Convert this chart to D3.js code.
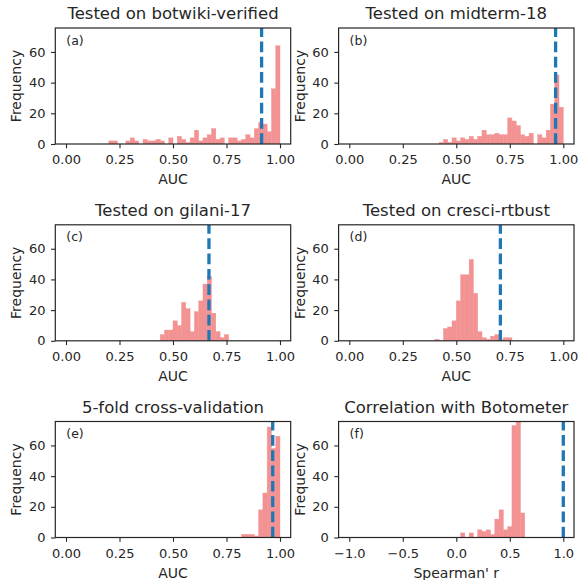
<!DOCTYPE html>
<html>
<head>
<meta charset="utf-8">
<script src="https://cdn.jsdelivr.net/npm/d3@7"></script>
<style>
  body { margin: 0; background: #fff; }
  svg text { font-family: 'DejaVu Sans', sans-serif; fill: #262626; }
</style>
</head>
<body>
<div id="chart"></div>
<script>
// histogram counts, one value per bin, starting at the first non-empty bin
const aucBinWidth = 0.02;
const rhoBinWidth = 0.04;

const botwikiStart = 0.20;
const botwikiCounts = [2, 2, 0, 0, 2, 4, 2, 0, 3, 2, 2, 3, 2, 0, 4, 0, 5, 3, 1, 4,
  9, 2, 4, 6, 10, 3, 4, 0, 4, 4, 2, 3, 6, 4, 10, 14, 13, 8, 36, 64];

const midtermStart = 0.42;
const midtermCounts = [1, 3, 1, 4, 2, 4, 3, 5, 3, 5, 9, 6, 6, 7, 6, 6, 17, 15, 12, 6,
  5, 7, 0, 6, 4, 9, 26, 45, 24];

const gilaniStart = 0.44;
const gilaniCounts = [4, 7, 7, 13, 10, 25, 21, 6, 19, 26, 37, 42, 18, 6, 2, 4];

const cresciStart = 0.40;
const cresciCounts = [1, 0, 8, 9, 13, 26, 43, 43, 53, 31, 6, 2, 1, 3, 4, 1, 2, 2];

const crossvalStart = 0.82;
const crossvalCounts = [2, 2, 2, 1, 18, 29, 72, 58, 66];

const spearmanStart = 0.04;
const spearmanCounts = [3, 0, 3, 0, 5, 4, 5, 2, 12, 18, 5, 7, 73, 76, 16];

// reference value drawn as the dashed line
const dashedValues = [0.914, 0.964, 0.668, 0.706, 0.966, 1.0];

const panelTitles = ['Tested on botwiki-verified', 'Tested on midterm-18',
  'Tested on gilani-17', 'Tested on cresci-rtbust',
  '5-fold cross-validation', 'Correlation with Botometer'];
const panelLetters = ['(a)', '(b)', '(c)', '(d)', '(e)', '(f)'];
const xLabels = ['AUC', 'AUC', 'AUC', 'AUC', 'AUC', "Spearman' r"];

const aucTicks = [0, 0.25, 0.5, 0.75, 1];
const rhoTicks = [-1, -0.5, 0, 0.5, 1];
const freqTicks = [0, 20, 40, 60];

const panels = [
  { start: botwikiStart, counts: botwikiCounts, bw: aucBinWidth, range: [0, 1], ticks: aucTicks, fmt: d3.format('.2f') },
  { start: midtermStart, counts: midtermCounts, bw: aucBinWidth, range: [0, 1], ticks: aucTicks, fmt: d3.format('.2f') },
  { start: gilaniStart, counts: gilaniCounts, bw: aucBinWidth, range: [0, 1], ticks: aucTicks, fmt: d3.format('.2f') },
  { start: cresciStart, counts: cresciCounts, bw: aucBinWidth, range: [0, 1], ticks: aucTicks, fmt: d3.format('.2f') },
  { start: crossvalStart, counts: crossvalCounts, bw: aucBinWidth, range: [0, 1], ticks: aucTicks, fmt: d3.format('.2f') },
  { start: spearmanStart, counts: spearmanCounts, bw: rhoBinWidth, range: [-1, 1], ticks: rhoTicks, fmt: d3.format('.1f') }
];

const width = 579;
const height = 580;
const colLeft = [55.3, 338.6];
const rowTop = [28, 224.8, 421.5];
const plotW = 235.4;
const plotH = 116;
const yMax = 75.6;

const barColor = '#f29292';
const lineColor = '#1f77b4';
const ink = '#262626';

const svg = d3.select('#chart').append('svg').attr('width', width).attr('height', height);

panels.forEach((p, idx) => {
  const col = idx % 2;
  const row = Math.floor(idx / 2);
  const g = svg.append('g').attr('transform', `translate(${colLeft[col]},${rowTop[row]})`);

  const span = p.range[1] - p.range[0];
  const xScale = d3
    .scaleLinear()
    .domain([p.range[0] - 0.05 * span, p.range[1] + 0.05 * span])
    .range([0, plotW]);
  const yScale = d3.scaleLinear().domain([0, yMax]).range([plotH, 0]);

  const clipId = 'clip' + idx;
  g.append('clipPath').attr('id', clipId).append('rect').attr('width', plotW).attr('height', plotH);

  const bins = p.counts.map((c, i) => ({ x0: p.start + i * p.bw, x1: p.start + (i + 1) * p.bw, c: c }));

  const plot = g.append('g').attr('clip-path', `url(#${clipId})`);

  // thin stroke of the same colour closes the antialiasing seams between bins
  plot
    .selectAll('rect')
    .data(bins.filter((d) => d.c > 0))
    .enter()
    .append('rect')
    .attr('x', (d) => xScale(d.x0))
    .attr('width', (d) => xScale(d.x1) - xScale(d.x0))
    .attr('y', (d) => yScale(d.c))
    .attr('height', (d) => plotH - yScale(d.c))
    .attr('fill', barColor)
    .attr('stroke', barColor)
    .attr('stroke-width', 0.4);

  // dashed reference line, drawn from the bottom up like axvline
  plot
    .append('line')
    .attr('x1', xScale(dashedValues[idx]))
    .attr('x2', xScale(dashedValues[idx]))
    .attr('y1', plotH)
    .attr('y2', 0)
    .attr('stroke', lineColor)
    .attr('stroke-width', 3.3)
    .attr('stroke-dasharray', '10.7 4.6');

  const xAxis = d3.axisBottom(xScale).tickValues(p.ticks).tickFormat(p.fmt).tickSize(4.3).tickPadding(6.8);
  const yAxis = d3.axisLeft(yScale).tickValues(freqTicks).tickSize(4.3).tickPadding(5.5);

  const xg = g.append('g').attr('transform', `translate(0,${plotH})`).call(xAxis);
  const yg = g.append('g').call(yAxis);
  [xg, yg].forEach((a) => {
    a.select('.domain').remove();
    a.selectAll('line').attr('stroke', ink).attr('stroke-width', 1.1);
    a.selectAll('text').style('font-size', '13px').attr('fill', ink);
  });

  g.append('rect')
    .attr('width', plotW)
    .attr('height', plotH)
    .attr('fill', 'none')
    .attr('stroke', ink)
    .attr('stroke-width', 1.2);

  g.append('text')
    .attr('x', plotW / 2)
    .attr('y', -8.6)
    .attr('text-anchor', 'middle')
    .style('font-size', '16.5px')
    .text(panelTitles[idx]);

  g.append('text')
    .attr('x', 11)
    .attr('y', 16.5)
    .style('font-size', '12.5px')
    .text(panelLetters[idx]);

  g.append('text')
    .attr('x', plotW / 2)
    .attr('y', plotH + 40.3)
    .attr('text-anchor', 'middle')
    .style('font-size', '14px')
    .text(xLabels[idx]);

  g.append('text')
    .attr('transform', `translate(${16.5 - colLeft[0]},${plotH / 2}) rotate(-90)`)
    .attr('text-anchor', 'middle')
    .attr('dy', '0.35em')
    .style('font-size', '14px')
    .text('Frequency');
});
</script>
</body>
</html>
